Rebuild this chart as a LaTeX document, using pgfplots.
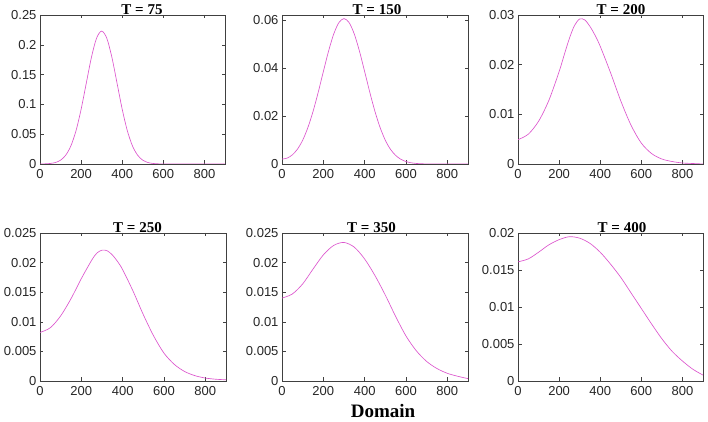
\documentclass[border=0pt]{standalone}
\usepackage{fontspec}
\setmainfont{Liberation Serif}
\newfontfamily\helv{Liberation Sans}
\usepackage{pgfplots}
\pgfplotsset{compat=1.18}
\definecolor{magcol}{RGB}{220,85,205}
\definecolor{framecol}{RGB}{64,64,64}
\pgfplotsset{
  panel/.style={
    scale only axis, width=186pt, height=149pt,
    anchor=south west,
    xmin=0, xmax=900, ymin=0,
    scaled y ticks=false, scaled x ticks=false,
    xtick={0,200,400,600,800}, xticklabels={0,200,400,600,800},
    tick align=inside, tick pos=both, major tick length=3.5pt,
    axis line style={framecol, line width=0.6pt},
    tick style={framecol, line width=0.5pt},
    ticklabel style={font=\helv\fontsize{13}{15}\selectfont, text=black!85},
    xticklabel style={yshift=-1.5pt},
    every axis title shift=0pt,
    title style={font=\bfseries\fontsize{15}{17}\selectfont, at={(0.5,1)}, anchor=base, yshift=0.5pt},
  },
  dens/.style={color=magcol, line width=0.65pt, smooth, no markers},
}
\begin{document}
\begin{tikzpicture}
\path[use as bounding box] (0,0) rectangle (708pt,422pt);

% T = 75
\begin{axis}[panel, at={(40pt,258pt)}, width=185pt,
  ymax=0.25, ytick={0,0.05,0.1,0.15,0.2,0.25}, yticklabels={0,0.05,0.1,0.15,0.2,0.25},
  title={T = 75}, title style={xshift=9.5pt}]
\addplot[dens] table {
x y
0 0.0001
25 0.0003
50 0.0009
75 0.0025
100 0.0064
125 0.0147
150 0.0302
175 0.0556
200 0.0917
225 0.1353
250 0.1786
275 0.2110
300 0.2230
325 0.2110
350 0.1786
375 0.1353
400 0.0917
425 0.0556
450 0.0302
475 0.0147
500 0.0064
525 0.0025
550 0.0009
575 0.0003
600 0.0001
650 0
750 0
900 0
};
\end{axis}

% T = 150
\begin{axis}[panel, at={(282pt,258pt)},
  ymax=0.062, ytick={0,0.02,0.04,0.06}, yticklabels={0,0.02,0.04,0.06},
  title={T = 150}, title style={xshift=2pt}]
\addplot[dens] table {
x y
0 0.00204
25 0.00246
50 0.00379
75 0.00620
100 0.00990
125 0.01511
150 0.02181
175 0.02978
200 0.03844
225 0.04688
250 0.05401
275 0.05881
300 0.06050
325 0.05881
350 0.05401
375 0.04688
400 0.03844
425 0.02978
450 0.02180
475 0.01509
500 0.00986
525 0.00609
550 0.00356
575 0.00196
600 0.00102
625 0.00050
650 0.00023
675 0.00010
700 0.00004
750 0
900 0
};
\end{axis}

% T = 200
\begin{axis}[panel, at={(518pt,258pt)}, width=185pt,
  ymax=0.03, ytick={0,0.01,0.02,0.03}, yticklabels={0,0.01,0.02,0.03},
  title={T = 200}, title style={xshift=10.5pt}]
\addplot[dens] table {
x y
0 0.0049
50 0.0060
100 0.0086
150 0.0128
200 0.0186
225 0.0220
250 0.0253
275 0.0279
300 0.0292
325 0.0290
350 0.0277
375 0.0259
400 0.0237
450 0.0184
500 0.0127
550 0.0078
600 0.0042
650 0.0021
700 0.0010
750 0.0005
800 0.0002
850 0.0001
900 0.0000
};
\end{axis}

% T = 250
\begin{axis}[panel, at={(40pt,41pt)}, height=148pt,
  ymax=0.025, ytick={0,0.005,0.01,0.015,0.02,0.025}, yticklabels={0,0.005,0.01,0.015,0.02,0.025},
  title={T = 250}, title style={xshift=4.5pt}]
\addplot[dens] table {
x y
0 0.0082
50 0.0090
100 0.0110
150 0.0139
200 0.0173
250 0.0204
275 0.0216
300 0.0221
325 0.0220
350 0.0213
375 0.0202
400 0.0188
450 0.0152
500 0.0112
550 0.0076
600 0.0047
650 0.0028
700 0.0016
750 0.0009
800 0.0005
850 0.0003
900 0.0002
};
\end{axis}

% T = 350
\begin{axis}[panel, at={(282pt,41pt)}, height=148pt,
  ymax=0.025, ytick={0,0.005,0.01,0.015,0.02,0.025}, yticklabels={0,0.005,0.01,0.015,0.02,0.025},
  title={T = 350}, title style={xshift=-3.5pt},
  xlabel={Domain},
  xlabel style={font=\bfseries\fontsize{19}{22}\selectfont, at={(axis description cs:0.5,0)}, anchor=base, yshift=-36pt, xshift=8pt}]
\addplot[dens] table {
x y
0 0.0140
50 0.0147
100 0.0164
150 0.0189
200 0.0213
250 0.0229
300 0.0234
350 0.0226
400 0.0206
450 0.0178
500 0.0145
550 0.0109
600 0.0076
650 0.0051
700 0.0033
750 0.0021
800 0.0013
850 0.0008
900 0.0004
};
\end{axis}

% T = 400
\begin{axis}[panel, at={(518pt,41pt)}, width=185pt, height=148pt,
  ymax=0.02, ytick={0,0.005,0.01,0.015,0.02}, yticklabels={0,0.005,0.01,0.015,0.02},
  title={T = 400}, title style={xshift=11.5pt}]
\addplot[dens] table {
x y
0 0.0161
50 0.0165
100 0.0174
150 0.0184
200 0.0191
250 0.0195
300 0.0193
350 0.0186
400 0.0174
450 0.0158
500 0.0140
550 0.0119
600 0.0098
650 0.0077
700 0.0057
750 0.0040
800 0.0027
850 0.0016
900 0.0008
};
\end{axis}
\end{tikzpicture}
\end{document}
